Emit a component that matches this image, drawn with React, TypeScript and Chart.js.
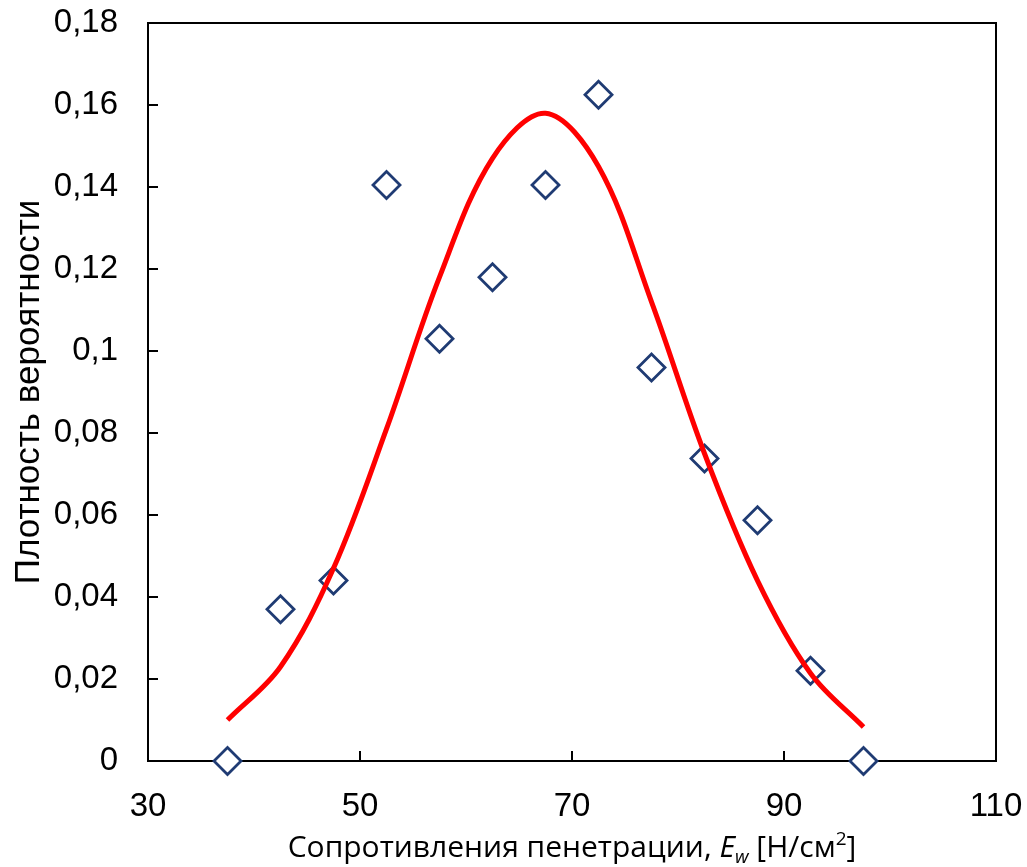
import React, { useEffect, useRef } from 'react';
import { Chart, registerables } from 'chart.js';

Chart.register(...registerables);

// Observed histogram density (bin centres)
const binCenters = [37.5, 42.5, 47.5, 52.5, 57.5, 62.5, 67.5, 72.5, 77.5, 82.5, 87.5, 92.5, 97.5];
const observedDensity = [0, 0.037, 0.044, 0.1405, 0.103, 0.118, 0.1405, 0.1625, 0.096, 0.0738, 0.0587, 0.022, 0];

// Fitted curve
const fittedX = [37.5, 42.5, 47.5, 52.5, 57.5, 62.5, 67.5, 72.5, 77.5, 82.5, 87.5, 92.5, 97.5];
const fittedDensity = [0.010, 0.023, 0.047, 0.081, 0.118, 0.147, 0.158, 0.145, 0.112, 0.075, 0.044, 0.0214, 0.0083];

const xTicks = [30, 50, 70, 90, 110];
const xTickLabels = ['30', '50', '70', '90', '110'];
const yTicks = [0, 0.02, 0.04, 0.06, 0.08, 0.1, 0.12, 0.14, 0.16, 0.18];
const yTickLabels = ['0', '0,02', '0,04', '0,06', '0,08', '0,1', '0,12', '0,14', '0,16', '0,18'];

const yTitle = 'Плотность вероятности';
const xTitleParts = [
  { text: 'Сопротивления пенетрации, ', style: 'normal', kind: 'base' },
  { text: 'E', style: 'italic', kind: 'base' },
  { text: 'w', style: 'italic', kind: 'sub' },
  { text: ' [Н/см', style: 'normal', kind: 'base' },
  { text: '2', style: 'normal', kind: 'sup' },
  { text: ']', style: 'normal', kind: 'base' },
];

const TICK_FONT = '"Liberation Sans", Arial, sans-serif';
const TITLE_FONT = '"Open Sans", "Noto Sans", sans-serif';

const framePlugin = {
  id: 'frameAndTicks',
  beforeDatasetsDraw(chart: any) {
    const { ctx, chartArea } = chart;
    const { left, right, top, bottom } = chartArea;
    ctx.save();
    ctx.strokeStyle = '#000';
    ctx.lineWidth = 2;
    ctx.beginPath();
    ctx.rect(left, top, right - left, bottom - top);
    ctx.stroke();
    const xs = chart.scales.x;
    const ys = chart.scales.y;
    ctx.beginPath();
    xTicks.forEach((v) => {
      const px = Math.round(xs.getPixelForValue(v));
      ctx.moveTo(px, bottom);
      ctx.lineTo(px, bottom - 10);
    });
    yTicks.forEach((v) => {
      const py = Math.round(ys.getPixelForValue(v));
      ctx.moveTo(left, py);
      ctx.lineTo(left + 10, py);
    });
    ctx.stroke();
    ctx.restore();
  },
  afterDraw(chart: any) {
    const { ctx, chartArea } = chart;
    const size = 30;
    const subSize = 19;
    const fontFor = (p: any) => `${p.style} ${p.kind === 'base' ? size : subSize}px ${TITLE_FONT}`;
    ctx.save();
    ctx.fillStyle = '#000';
    ctx.textBaseline = 'alphabetic';
    ctx.textAlign = 'left';
    let total = 0;
    const widths = xTitleParts.map((p) => {
      ctx.font = fontFor(p);
      const w = ctx.measureText(p.text).width;
      total += w;
      return w;
    });
    const cx = (chartArea.left + chartArea.right) / 2;
    let x = cx - total / 2;
    const baseY = 857;
    xTitleParts.forEach((p, i) => {
      ctx.font = fontFor(p);
      let y = baseY;
      if (p.kind === 'sub') y = baseY + 6;
      if (p.kind === 'sup') y = baseY - 12;
      ctx.fillText(p.text, x, y);
      x += widths[i];
    });
    ctx.restore();
  },
};

export default function App() {
  const canvasRef = useRef<HTMLCanvasElement | null>(null);

  useEffect(() => {
    const canvas = canvasRef.current;
    if (!canvas) return;
    const zeroPad = (scale: any) => {
      scale.paddingTop = 0;
      scale.paddingBottom = 0;
      scale.paddingLeft = 0;
      scale.paddingRight = 0;
    };
    const chart = new Chart(canvas, {
      type: 'scatter',
      data: {
        datasets: [
          {
            label: 'fit',
            data: fittedX.map((x, i) => ({ x, y: fittedDensity[i] })),
            showLine: true,
            borderColor: '#FF0000',
            borderWidth: 5,
            pointRadius: 0,
            tension: 0.35,
            order: 0,
            clip: false,
          } as any,
          {
            label: 'observed',
            data: binCenters.map((x, i) => ({ x, y: observedDensity[i] })),
            pointStyle: 'rectRot',
            pointRadius: 13.5,
            pointBorderWidth: 2.8,
            borderColor: '#1F3B73',
            backgroundColor: '#FFFFFF',
            order: 1,
            clip: false,
          } as any,
        ],
      },
      options: {
        animation: false,
        responsive: true,
        maintainAspectRatio: false,
        layout: { padding: { top: 23, right: 31, left: 0, bottom: 0 } },
        plugins: {
          legend: { display: false },
          tooltip: { enabled: false },
        },
        scales: {
          x: {
            type: 'linear',
            min: 30,
            max: 110,
            grid: { display: false, drawTicks: false },
            border: { display: false },
            afterBuildTicks: (scale: any) => {
              scale.ticks = xTicks.map((v) => ({ value: v }));
            },
            afterFit: (scale: any) => {
              scale.height = 106;
              zeroPad(scale);
            },
            ticks: {
              padding: 26,
              color: '#000',
              font: { family: TICK_FONT, size: 33 },
              maxRotation: 0,
              callback: (v: any) => {
                const i = xTicks.indexOf(Number(v));
                return i >= 0 ? xTickLabels[i] : '';
              },
            },
          },
          y: {
            type: 'linear',
            min: 0,
            max: 0.18,
            grid: { display: false, drawTicks: false },
            border: { display: false },
            afterBuildTicks: (scale: any) => {
              scale.ticks = yTicks.map((v) => ({ value: v }));
            },
            afterFit: (scale: any) => {
              scale.width = 148;
              zeroPad(scale);
            },
            ticks: {
              padding: 30,
              color: '#000',
              font: { family: TICK_FONT, size: 33 },
              callback: (v: any) => {
                const i = yTicks.findIndex((t) => Math.abs(t - Number(v)) < 1e-9);
                return i >= 0 ? yTickLabels[i] : '';
              },
            },
            title: {
              display: true,
              text: yTitle,
              color: '#000',
              font: { family: TICK_FONT, size: 35 },
              padding: { top: 8, bottom: 0 },
            },
          },
        },
      },
      plugins: [framePlugin],
    });
    return () => chart.destroy();
  }, []);

  return (
    <div style={{ position: 'absolute', left: 0, top: 0, width: 1027, height: 867, background: '#fff' }}>
      <canvas ref={canvasRef} />
    </div>
  );
}
